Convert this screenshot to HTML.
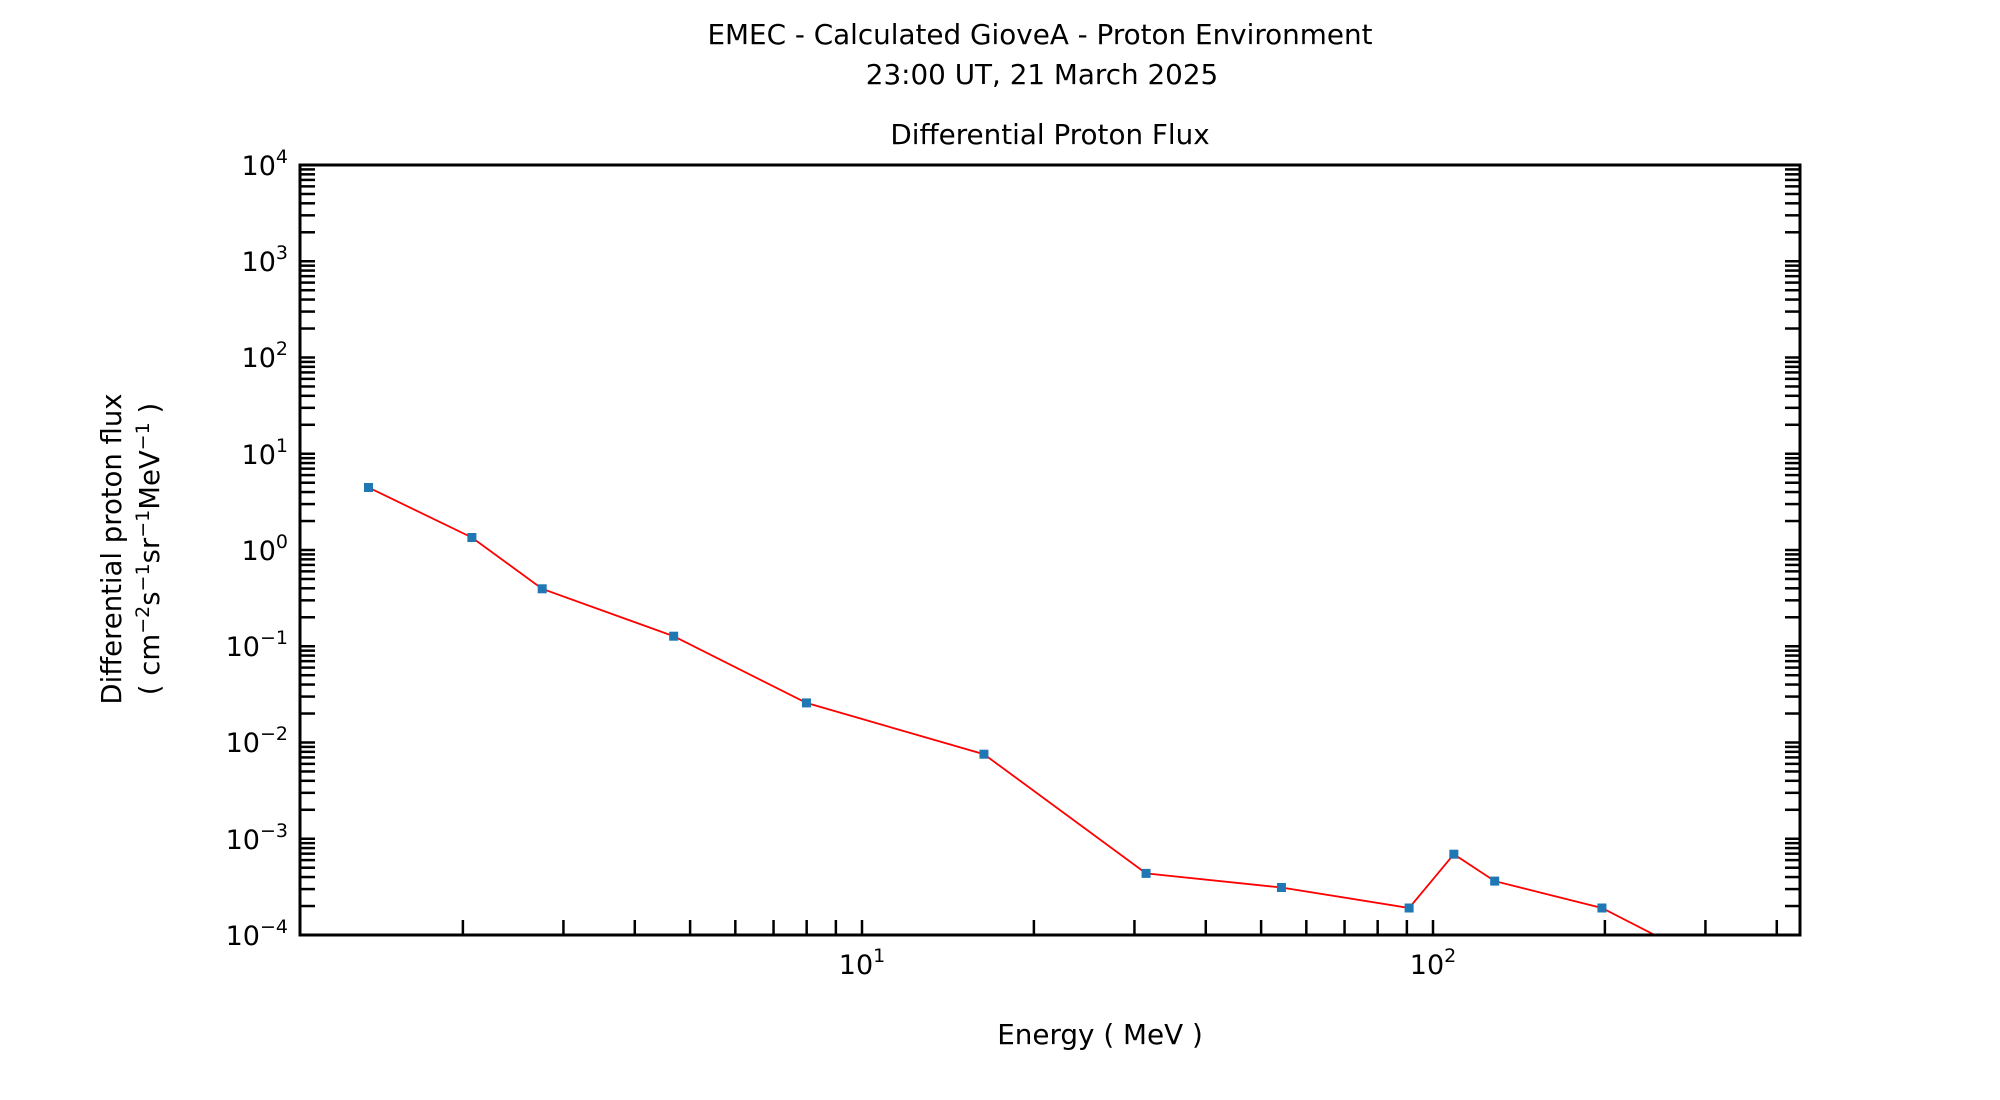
<!DOCTYPE html>
<html><head><meta charset="utf-8"><style>
html,body{margin:0;padding:0;background:#fff;width:2000px;height:1100px;overflow:hidden}
svg text{font-family:"DejaVu Sans","Liberation Sans",sans-serif;fill:#000}
</style></head><body>
<svg id="s" width="2000" height="1100" viewBox="0 0 2000 1100" xmlns="http://www.w3.org/2000/svg">
<text x="1040" y="44" font-size="27.8" text-anchor="middle">EMEC - Calculated GioveA - Proton Environment</text>
<text x="1042" y="84" font-size="27.8" text-anchor="middle">23:00 UT, 21 March 2025</text>
<text x="1050" y="144" font-size="27.8" text-anchor="middle">Differential Proton Flux</text>
<text x="1100" y="1044" font-size="27.8" text-anchor="middle">Energy ( MeV )</text>
<text transform="translate(121,549) rotate(-90)" font-size="27.5" text-anchor="middle">Differential proton flux</text>
<text transform="translate(159,549) rotate(-90)" font-size="27.5" text-anchor="middle">( cm<tspan dy="-10" font-size="19">−2</tspan><tspan dy="10">s</tspan><tspan dy="-10" font-size="19">−1</tspan><tspan dy="10">sr</tspan><tspan dy="-10" font-size="19">−1</tspan><tspan dy="10">MeV</tspan><tspan dy="-10" font-size="19">−1</tspan><tspan dy="10"> )</tspan></text>
<g font-size="27" text-anchor="end">
<text x="288" y="175">10<tspan dy="-12" font-size="19">4</tspan></text>
<text x="288" y="271">10<tspan dy="-12" font-size="19">3</tspan></text>
<text x="288" y="367">10<tspan dy="-12" font-size="19">2</tspan></text>
<text x="288" y="464">10<tspan dy="-12" font-size="19">1</tspan></text>
<text x="288" y="560">10<tspan dy="-12" font-size="19">0</tspan></text>
<text x="288" y="656">10<tspan dy="-12" font-size="19">−1</tspan></text>
<text x="288" y="752">10<tspan dy="-12" font-size="19">−2</tspan></text>
<text x="288" y="849">10<tspan dy="-12" font-size="19">−3</tspan></text>
<text x="288" y="945">10<tspan dy="-12" font-size="19">−4</tspan></text>
</g>
<g font-size="27" text-anchor="middle">
<text x="862" y="974">10<tspan dy="-12" font-size="19">1</tspan></text>
<text x="1433" y="974">10<tspan dy="-12" font-size="19">2</tspan></text>
</g>
<defs><clipPath id="c"><rect x="300" y="165" width="1500" height="770"/></clipPath></defs>
<g id="ticks" stroke="#000" stroke-width="2.5"></g>
<g clip-path="url(#c)">
<polyline id="pl" fill="none" stroke="#ff0000" stroke-width="1.8" points=""/>
<g fill="#1f77b4" id="m"></g>
</g>
<rect x="300" y="165" width="1500" height="770" fill="none" stroke="#000" stroke-width="3"/>
</svg>
<script>
var t=document.getElementById('ticks'),h='';
for(var d=0;d<8;d++){var y0=935-d*96.25;
 for(var k=1;k<10;k++){var y=y0-Math.log10(k)*96.25;var L=15;
  h+='<line x1="300" y1="'+y+'" x2="'+(300+L)+'" y2="'+y+'"/><line x1="1800" y1="'+y+'" x2="'+(1800-L)+'" y2="'+y+'"/>';}}
for(var d=0;d<3;d++){for(var k=1;k<10;k++){var v=Math.pow(10,d)*k;var x=862+(Math.log10(v)-1)*571;
 if(x>301&&x<1799)h+='<line x1="'+x+'" y1="935" x2="'+x+'" y2="920"/>';}}
t.innerHTML=h;
var p=[[370.5,491],[474.3,541],[544.9,592.3],[676.9,639.7],[810.2,706.4],[988.4,757.7],[1151.2,876.9],[1287.1,891],[1415.3,911.5],[1460.2,857.7],[1501.2,884.6],[1608.9,911.5],[1700,958]],m='',pts='';
p.forEach(function(q,i){var x=q[0]-2-(q[0]-370)*0.004,y=q[1]-3.5;pts+=x+','+y+' ';
 if(i<p.length-1)m+='<rect x="'+(x-4.5)+'" y="'+(y-4.5)+'" width="9" height="9"/>';});
document.getElementById('pl').setAttribute('points',pts);
document.getElementById('m').innerHTML=m;
</script>
</body></html>
